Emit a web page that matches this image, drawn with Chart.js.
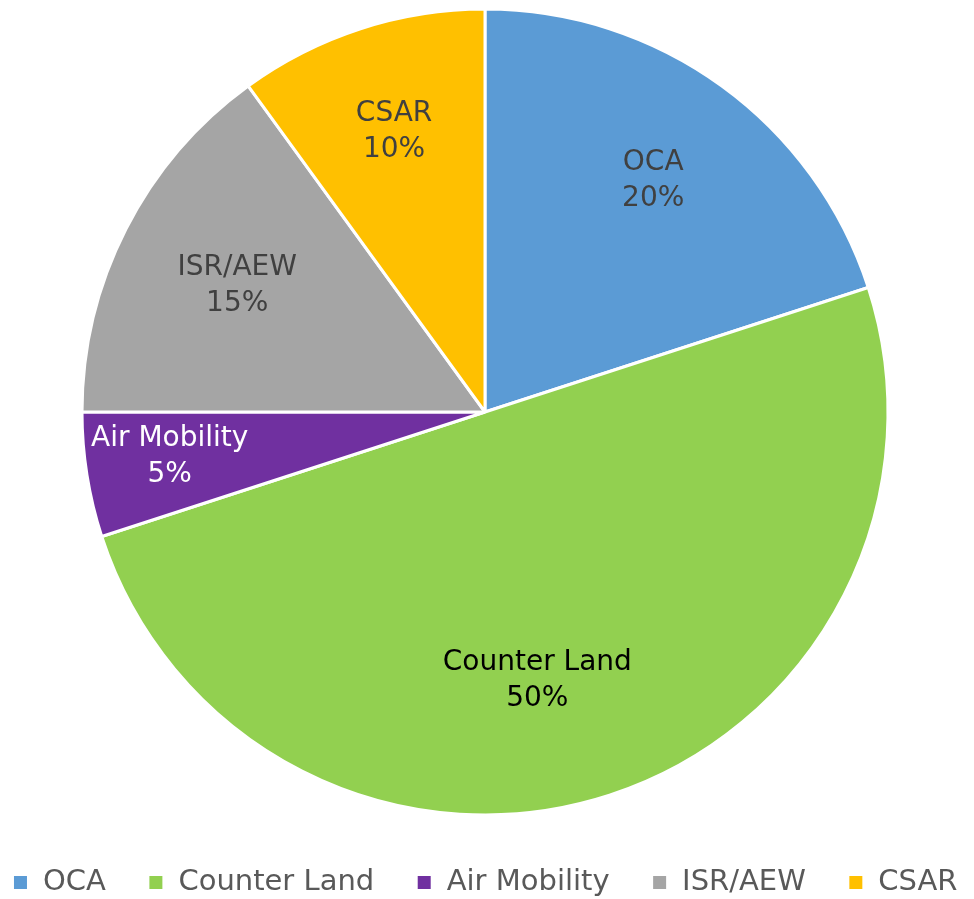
<!DOCTYPE html>
<html>
<head>
<meta charset="utf-8">
<script src="https://cdn.jsdelivr.net/npm/chart.js@4"></script>
<style>
  html, body { margin: 0; padding: 0; background: #ffffff; overflow: hidden; }
  #wrap { width: 974px; height: 899px; position: relative; left: -2px; top: -2px; }
</style>
</head>
<body>
<div id="wrap"><canvas id="g_roles"></canvas></div>
<script>
// valeurs
const categories = ["OCA", "Counter Land", "Air Mobility", "ISR/AEW", "CSAR"];
const shares = [20, 50, 5, 15, 10];
const sliceColors = ["#5b9bd5", "#92d050", "#7030a0", "#a5a5a5", "#ffc000"];
const labelColors = ["#404040", "#000000", "#ffffff", "#404040", "#404040"];
// placement des etiquettes (fraction du rayon, decalage d'angle en degres)
const labelRadius = [0.71, 0.68, 0.79, 0.69, 0.73];
const labelTurn = [0, 7, 1, 0, 0];

// dessine "nom" + "xx%" dans chaque part
const sliceLabels = {
    id: "sliceLabels",
    afterDatasetsDraw(chart) {
        const ctx = chart.ctx;
        const meta = chart.getDatasetMeta(0);
        const total = shares.reduce((a, b) => a + b, 0);
        ctx.save();
        ctx.font = "28px 'DejaVu Sans'";
        ctx.textAlign = "center";
        ctx.textBaseline = "middle";
        meta.data.forEach(function(arc, i) {
            const p = arc.getProps(["x", "y", "startAngle", "endAngle", "outerRadius"], true);
            const a = (p.startAngle + p.endAngle) / 2 + labelTurn[i] * Math.PI / 180;
            const r = p.outerRadius * labelRadius[i];
            const x = p.x + Math.cos(a) * r;
            const y = p.y + Math.sin(a) * r;
            const pct = Math.round(shares[i] / total * 100) + "%";
            ctx.fillStyle = labelColors[i];
            ctx.fillText(categories[i], x, y - 18);
            ctx.fillText(pct, x, y + 18);
        });
        ctx.restore();
    }
};

function drawRoles() {
    const ctx = document.getElementById("g_roles").getContext("2d");
    let conData = {
        labels: categories,
        datasets: [{
            data: shares,
            backgroundColor: sliceColors,
            borderColor: "#ffffff",
            borderWidth: 3,
            radius: 403
        }]
    };
    let options = {
        responsive: true,
        maintainAspectRatio: false,
        animation: false,
        // marges negatives : legende plus large et plus basse
        layout: { padding: { top: 0, left: -32, right: -32, bottom: -10 } },
        plugins: {
            tooltip: { enabled: false },
            legend: {
                position: "bottom",
                labels: {
                    boxWidth: 16,
                    boxHeight: 16,
                    padding: 42,
                    color: "#595959",
                    font: { family: "'DejaVu Sans'", size: 29 }
                }
            }
        }
    };
    new Chart(ctx, {
        type: "pie",
        data: conData,
        options: options,
        plugins: [sliceLabels]
    });
}

window.addEventListener("load", () => {
    drawRoles();
});
</script>
</body>
</html>
